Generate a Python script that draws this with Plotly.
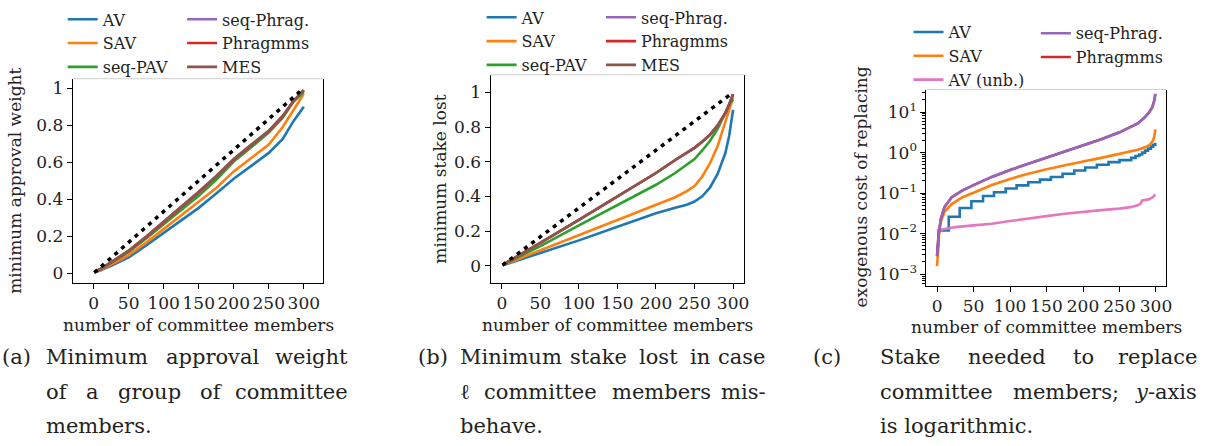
import plotly.graph_objects as go

W, H = 1215, 446

C_AV, C_SAV, C_PAV = "#1f77b4", "#ff7f0e", "#2ca02c"
C_PHRAG, C_PHRAGMMS, C_MES, C_UNB = "#9467bd", "#d62728", "#8c564b", "#e377c2"

# ---- (a) minimum approval weight ----
A_X = [1, 10, 25, 50, 75, 100, 125, 150, 175, 200, 225, 250, 270, 285, 300]
A_AV = [0.003, 0.015, 0.04, 0.085, 0.15, 0.218, 0.285, 0.353, 0.43, 0.51, 0.58, 0.65, 0.725, 0.82, 0.90]
A_SAV = [0.004, 0.018, 0.046, 0.098, 0.165, 0.238, 0.31, 0.383, 0.46, 0.55, 0.625, 0.695, 0.79, 0.88, 0.97]
A_PAV = [0.005, 0.022, 0.055, 0.115, 0.188, 0.263, 0.34, 0.418, 0.505, 0.603, 0.68, 0.76, 0.84, 0.925, 0.98]
A_PHRAG = [0.005, 0.023, 0.058, 0.12, 0.196, 0.275, 0.355, 0.437, 0.522, 0.614, 0.692, 0.768, 0.848, 0.928, 0.988]
A_PHRAGMMS = [0.005, 0.023, 0.058, 0.12, 0.196, 0.275, 0.355, 0.437, 0.522, 0.614, 0.692, 0.768, 0.848, 0.928, 0.988]
A_MES = [0.006, 0.024, 0.06, 0.122, 0.198, 0.277, 0.357, 0.44, 0.525, 0.617, 0.695, 0.77, 0.85, 0.93, 0.99]

# ---- (b) minimum stake lost ----
B_X = [1, 25, 50, 100, 150, 200, 225, 240, 250, 260, 270, 280, 290, 295, 300]
B_AV = [0.002, 0.037, 0.074, 0.146, 0.225, 0.302, 0.335, 0.352, 0.37, 0.40, 0.45, 0.53, 0.65, 0.75, 0.90]
B_SAV = [0.003, 0.045, 0.09, 0.178, 0.265, 0.35, 0.395, 0.43, 0.46, 0.515, 0.59, 0.69, 0.83, 0.90, 0.97]
B_PAV = [0.004, 0.057, 0.113, 0.232, 0.35, 0.467, 0.535, 0.58, 0.615, 0.665, 0.72, 0.79, 0.88, 0.93, 0.96]
B_PHRAG = [0.004, 0.066, 0.132, 0.265, 0.40, 0.535, 0.61, 0.65, 0.68, 0.715, 0.755, 0.81, 0.88, 0.93, 0.99]
B_PHRAGMMS = [0.004, 0.066, 0.132, 0.265, 0.40, 0.535, 0.61, 0.65, 0.68, 0.715, 0.755, 0.81, 0.88, 0.93, 0.99]
B_MES = [0.004, 0.066, 0.132, 0.265, 0.40, 0.535, 0.61, 0.65, 0.68, 0.715, 0.755, 0.81, 0.88, 0.93, 0.99]

DIAG_X = [1, 300]
DIAG_Y = [0.0033, 1.0]

# ---- (c) exogenous cost of replacing (log y) ----
C_AV_X = [0, 1, 2, 16, 31, 47, 63, 78, 94, 109, 125, 141, 156, 172, 188, 203, 219,
          235, 250, 266, 272, 277, 281, 285, 289, 293, 296, 299]
C_AV_Y = [0.0028, 0.005, 0.012, 0.026, 0.043, 0.063, 0.085, 0.105, 0.13, 0.155, 0.185, 0.215,
          0.25, 0.30, 0.36, 0.43, 0.50, 0.58, 0.65, 0.74, 0.82, 0.9, 1.0, 1.12, 1.25, 1.4, 1.55, 1.75]
C_SAV_X = [0, 1, 3, 5, 10, 20, 35, 50, 75, 100, 125, 150, 175, 200, 225, 250,
           265, 275, 285, 292, 296, 298, 299]
C_SAV_Y = [0.00158, 0.004, 0.0112, 0.0191, 0.0339, 0.0537, 0.0794, 0.102, 0.158, 0.224, 0.302,
           0.389, 0.49, 0.603, 0.741, 0.912, 1.05, 1.17, 1.35, 1.58, 2.0, 2.63, 3.72]
C_PHRAG_X = [0, 1, 2, 5, 10, 20, 35, 50, 75, 100, 125, 150, 175, 200, 225, 250,
             265, 275, 284, 290, 295, 298, 299]
C_PHRAG_Y = [0.0028, 0.005, 0.0089, 0.0224, 0.0447, 0.0794, 0.117, 0.158, 0.251, 0.372, 0.525,
             0.741, 1.05, 1.48, 2.14, 3.16, 4.17, 5.25, 7.24, 9.55, 13.2, 20.0, 28.2]
C_PHRAGMMS_Y = [0.0028, 0.005, 0.0089, 0.0224, 0.0447, 0.0794, 0.117, 0.158, 0.251, 0.372, 0.525,
                0.741, 1.05, 1.48, 2.14, 3.16, 4.17, 5.25, 7.24, 9.55, 13.2, 20.0, 28.2]
C_UNB_X = [0, 5, 10, 25, 50, 75, 100, 125, 150, 175, 200, 225, 250, 265, 275, 279, 281,
           290, 296, 299]
C_UNB_Y = [0.011, 0.0125, 0.013, 0.0145, 0.016, 0.0175, 0.0205, 0.024, 0.027, 0.031, 0.035,
           0.038, 0.0415, 0.045, 0.05, 0.055, 0.066, 0.07, 0.08, 0.093]

X_TICKS = [0, 50, 100, 150, 200, 250, 300]
LIN_TICKS = [0, 0.2, 0.4, 0.6, 0.8, 1]
LIN_TEXT = ["0", "0.2", "0.4", "0.6", "0.8", "1"]
LOG_TICKS = [1e-3, 1e-2, 1e-1, 1, 10]
LOG_TEXT = ["10<sup>−3</sup>", "10<sup>−2</sup>", "10<sup>−1</sup>", "10<sup>0</sup>", "10<sup>1</sup>"]
LOG_MINOR = [m * 10 ** e for e in range(-4, 2) for m in range(2, 10)]

FONT = "DejaVu Serif"
INK = "#222222"
LW = 2.6


def px(x):
    return x / W


def py(y):
    return 1 - y / H


fig = go.Figure()


def line(x, y, name, color, xa, ya, legend, show=True):
    fig.add_trace(go.Scatter(
        x=x, y=y, mode="lines", name=name, xaxis=xa, yaxis=ya, legend=legend,
        line=dict(color=color, width=LW), showlegend=show,
    ))


# (a)
line(A_X, A_AV, "AV", C_AV, "x", "y", "legend")
line(A_X, A_SAV, "SAV", C_SAV, "x", "y", "legend")
line(A_X, A_PAV, "seq-PAV", C_PAV, "x", "y", "legend")
line(A_X, A_PHRAG, "seq-Phrag.", C_PHRAG, "x", "y", "legend2")
line(A_X, A_PHRAGMMS, "Phragmms", C_PHRAGMMS, "x", "y", "legend2")
line(A_X, A_MES, "MES", C_MES, "x", "y", "legend2")
fig.add_trace(go.Scatter(x=DIAG_X, y=DIAG_Y, mode="lines", xaxis="x", yaxis="y", showlegend=False,
                         line=dict(color="black", width=3.5, dash="4px,5px")))

# (b)
line(B_X, B_AV, "AV", C_AV, "x2", "y2", "legend3")
line(B_X, B_SAV, "SAV", C_SAV, "x2", "y2", "legend3")
line(B_X, B_PAV, "seq-PAV", C_PAV, "x2", "y2", "legend3")
line(B_X, B_PHRAG, "seq-Phrag.", C_PHRAG, "x2", "y2", "legend4")
line(B_X, B_PHRAGMMS, "Phragmms", C_PHRAGMMS, "x2", "y2", "legend4")
line(B_X, B_MES, "MES", C_MES, "x2", "y2", "legend4")
fig.add_trace(go.Scatter(x=DIAG_X, y=DIAG_Y, mode="lines", xaxis="x2", yaxis="y2", showlegend=False,
                         line=dict(color="black", width=3.5, dash="4px,5px")))

# (c)
fig.add_trace(go.Scatter(x=C_AV_X, y=C_AV_Y, mode="lines", name="AV", xaxis="x3", yaxis="y3",
                         legend="legend5", line=dict(color=C_AV, width=LW, shape="hv")))
line(C_SAV_X, C_SAV_Y, "SAV", C_SAV, "x3", "y3", "legend5")
line(C_UNB_X, C_UNB_Y, "AV (unb.)", C_UNB, "x3", "y3", "legend5")
line(C_PHRAG_X, C_PHRAGMMS_Y, "Phragmms", C_PHRAGMMS, "x3", "y3", "legend6", show=False)
line(C_PHRAG_X, C_PHRAG_Y, "seq-Phrag.", C_PHRAG, "x3", "y3", "legend6")
# legend-only entry so that Phragmms sits below seq-Phrag. in the legend
fig.add_trace(go.Scatter(x=[None], y=[None], mode="lines", name="Phragmms", xaxis="x3", yaxis="y3",
                         legend="legend6", line=dict(color=C_PHRAGMMS, width=LW)))

axis_common = dict(
    showline=True, linecolor="black", linewidth=1, ticks="outside", ticklen=5, tickwidth=1,
    tickcolor="black", showgrid=False, zeroline=False, tickfont=dict(family=FONT, size=17, color=INK),
)

panels = [
    # x axis domain px, y axis domain px (top, bottom), x range, y range
    ("", (73, 325), (72, 280), [-30, 328], [-0.053, 1.051]),
    ("2", (493, 748), (68, 280), [-14.6, 314.6], [-0.1, 1.102]),
    ("3", (931, 1172), (83, 283), [-14.6, 314], [-3.29, 1.556]),
]
for sfx, (xl, xr), (yt, yb), xr_, yr_ in panels:
    fig.update_layout({
        f"xaxis{sfx}": dict(axis_common, domain=[px(xl), px(xr)], range=xr_, anchor=f"y{sfx}",
                            tickvals=X_TICKS),
        f"yaxis{sfx}": dict(axis_common, domain=[py(yb), py(yt)], range=yr_, anchor=f"x{sfx}",
                            mirror=True),
    })
    fig.add_shape(type="line", xref=f"x{sfx} domain", yref=f"y{sfx} domain", x0=0, x1=1, y0=1, y1=1,
                  line=dict(color="#d0d0d0", width=1))

fig.update_layout(
    yaxis=dict(tickvals=LIN_TICKS, ticktext=LIN_TEXT),
    yaxis2=dict(tickvals=LIN_TICKS, ticktext=LIN_TEXT),
    yaxis3=dict(type="log", tickvals=LOG_TICKS, ticktext=LOG_TEXT,
                minor=dict(tickvals=LOG_MINOR, ticks="outside", ticklen=3, tickcolor="black")),
)

# axis titles
titles = [
    ("number of committee members", 199, 323, 0),
    ("number of committee members", 620.5, 323, 0),
    ("number of committee members", 1051.5, 325, 0),
    ("minimum approval weight", 15, 176, -90),
    ("minimum stake lost", 442, 174, -90),
    ("exogenous cost of replacing", 865, 182, -90),
]
for text, x, y, ang in titles:
    fig.add_annotation(text=text, x=px(x), y=py(y), xref="paper", yref="paper", showarrow=False,
                       textangle=ang, xanchor="center", yanchor="middle",
                       font=dict(family=FONT, size=17, color=INK))

# legends: (legend id, text left px, middle row centre px)
legend_pos = [
    ("legend", 104, 36), ("legend2", 224, 36),
    ("legend3", 525, 34), ("legend4", 645, 34),
    ("legend5", 954, 49), ("legend6", 1082, 38),
]
for lid, tx, ty in legend_pos:
    fig.update_layout({lid: dict(
        x=px(tx - 41), y=py(ty), xanchor="left", yanchor="middle", orientation="v",
        bgcolor="rgba(0,0,0,0)", borderwidth=0, tracegroupgap=0, itemwidth=30,
        font=dict(family=FONT, size=16, color=INK),
    )})

# captions
CW = {"a": .596, "b": .640, "c": .560, "d": .640, "e": .592, "f": .370, "g": .640, "h": .644,
      "i": .320, "j": .310, "k": .605, "l": .320, "m": .948, "n": .644, "o": .602, "p": .640,
      "q": .640, "r": .478, "s": .513, "t": .402, "u": .644, "v": .565, "w": .856, "x": .564,
      "y": .565, "z": .527, "M": .873, "S": .685, ".": .318, ";": .337, "-": .338, "ℓ": .42}
CAP_SIZE = 21


def word_w(w):
    return sum(CW.get(ch, 0.6) for ch in w) * CAP_SIZE


def caption_line(text, x0, x1, y, justify=True):
    words = text.split(" ")
    font = dict(family=FONT, size=CAP_SIZE, color=INK)
    if not justify or len(words) == 1:
        fig.add_annotation(text=text, x=px(x0), y=py(y), xref="paper", yref="paper", showarrow=False,
                           xanchor="left", yanchor="middle", font=font)
        return
    widths = [word_w(w.replace("<i>", "").replace("</i>", "")) for w in words]
    gap = (x1 - x0 - sum(widths)) / (len(words) - 1)
    xc = x0
    for i, (w, wd) in enumerate(zip(words, widths)):
        last = i == len(words) - 1
        fig.add_annotation(text=w, x=px(x1 if last else xc), y=py(y), xref="paper", yref="paper",
                           showarrow=False, xanchor="right" if last else "left", yanchor="middle",
                           font=font)
        xc += wd + gap


captions = [
    ("(a)", 0, 44, 352, ["Minimum approval weight", "of a group of committee", "members."]),
    ("(b)", 418, 460, 772, ["Minimum stake lost in case", "ℓ committee members mis-", "behave."]),
    ("(c)", 815, 882, 1205, ["Stake needed to replace", "committee members; <i>y</i>-axis",
                             "is logarithmic."]),
]
for lab, lx, x0, x1, lines in captions:
    fig.add_annotation(text=lab, x=px(lx), y=py(355), xref="paper", yref="paper", showarrow=False,
                       xanchor="left", yanchor="middle", font=dict(family=FONT, size=CAP_SIZE, color=INK))
    for k, t in enumerate(lines):
        caption_line(t, x0, x1, [355, 391, 426][k], justify=k < 2)

fig.update_layout(
    width=W, height=H, margin=dict(l=0, r=0, t=0, b=0),
    paper_bgcolor="white", plot_bgcolor="white",
)

fig.write_html("out.html", config={"displayModeBar": False},
               post_script="document.body.style.margin='0px';")
